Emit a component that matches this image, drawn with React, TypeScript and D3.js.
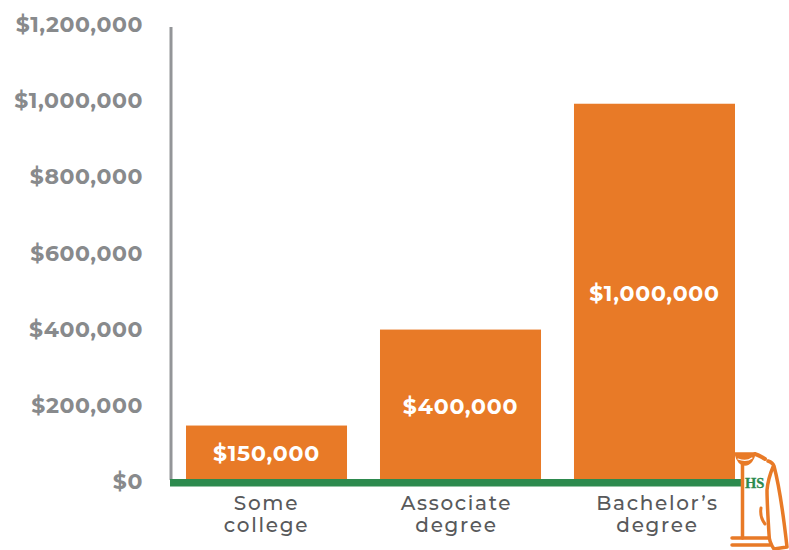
import React from "react";
import * as d3 from "d3";

const categories = ["Some college", "Associate degree", "Bachelor's degree"];
const categoryLines = [["Some", "college"], ["Associate", "degree"], ["Bachelor’s", "degree"]];
const barValues = [143000, 395000, 988000];
const barLabels = ["$150,000", "$400,000", "$1,000,000"];
const tickValues = [0, 200000, 400000, 600000, 800000, 1000000, 1200000];

const width = 789;
const height = 550;
const font = "Montserrat, Inter, 'Open Sans', sans-serif";

const orange = "#e87a27";
const green = "#2d8a4e";
const grey = "#888a8c";
const slate = "#58595b";

// category labels are not quite centred under the bars
const labelShift = [0, -4, 3];

const x = d3.scaleBand<string>().domain(categories).range([186, 735]).paddingInner(0.17);
const y = d3.scaleLinear().domain([0, 1200000]).range([480, 23]);
const money = (v: number) => "$" + d3.format(",")(v);

const Jacket = () => (
    <g fill="none" stroke={orange} strokeWidth={3.5} strokeLinecap="round" strokeLinejoin="round">
        {/* collar */}
        <path d="M735 453 L755 453 C745 453 737 453 735 453 C737 461 741 465 745 465 C750 465 754 460 755 453 Z" fill={orange} strokeWidth={1.5} />
        <path d="M738 459 C743 461 748 461 752 458" stroke="#fff" strokeWidth={1.2} />
        <path d="M755 454 C759 455 762 457 765 459" strokeWidth={4} />
        {/* body and hem */}
        <path d="M742.5 463 L742.5 538" />
        <path d="M732 538 L768 538" />
        <path d="M732 545 L770 545" />
        <path d="M761 508 C760 514 762 520 765 524" strokeWidth={3} />
        {/* sleeve */}
        <path d="M768 461 C771 462 773 463 774 466 C779 485 784 520 787 547 L774 549 C771 545 769 540 769 534 C768 518 767 500 767 490 C768 480 770 474 773 467" />
    </g>
);

export default function App() {
    return (
        <svg width={width} height={height} style={{ position: "absolute", left: 0, top: 0 }} fontFamily={font}>
            {/* value axis */}
            <line x1={171} x2={171} y1={27} y2={y(0)} stroke="#939598" strokeWidth={3} />
            {tickValues.map((t) => (
                <text key={t} x={143} y={y(t) + 1.2} dy="0.36em" textAnchor="end" fontSize={22} fontWeight={700} fill={grey} letterSpacing={0.6}>
                    {money(t)}
                </text>
            ))}

            {/* bars */}
            {categories.map((c, i) => (
                <g key={c}>
                    <rect x={x(c)} y={y(barValues[i])} width={x.bandwidth()} height={y(0) - y(barValues[i])} fill={orange} />
                    <text
                        x={x(c)! + x.bandwidth() / 2}
                        y={(y(barValues[i]) + y(0)) / 2 + 0.8}
                        dy="0.36em"
                        textAnchor="middle"
                        fontSize={22}
                        fontWeight={700}
                        fill="#fff"
                        letterSpacing={0.8}
                    >
                        {barLabels[i]}
                    </text>
                    {categoryLines[i].map((line, j) => (
                        <text
                            key={line}
                            x={x(c)! + x.bandwidth() / 2 + labelShift[i]}
                            y={510 + j * 22}
                            textAnchor="middle"
                            fontSize={20}
                            fontWeight={500}
                            fill={slate}
                            letterSpacing={1.7}
                        >
                            {line}
                        </text>
                    ))}
                </g>
            ))}

            <rect x={170} y={479} width={571} height={7.5} fill={green} />

            <Jacket />
            <text x={745} y={487.5} fontSize={14.5} fontWeight={700} fontFamily="'Liberation Serif', serif" fill={green} stroke={green} strokeWidth={0.3}>
                HS
            </text>
        </svg>
    );
}
